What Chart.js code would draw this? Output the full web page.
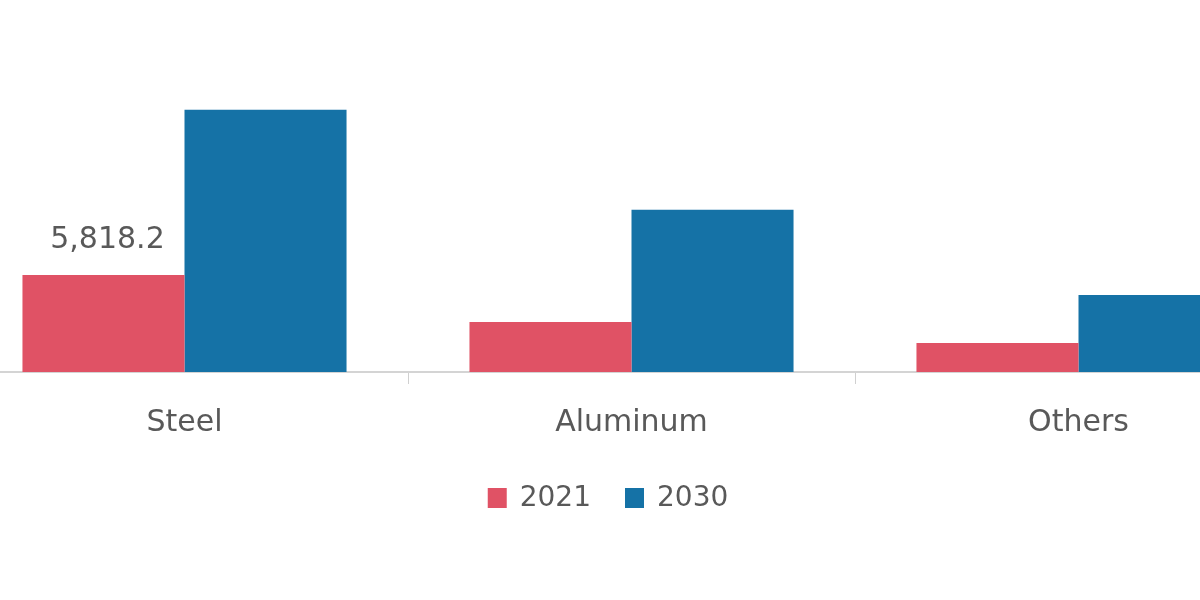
<!DOCTYPE html>
<html>
<head>
<meta charset="utf-8">
<script src="https://cdn.jsdelivr.net/npm/chart.js@4/dist/chart.umd.min.js"></script>
<style>
  html, body { margin: 0; padding: 0; width: 1200px; height: 600px; overflow: hidden; background: #ffffff; }
  #wrap { position: absolute; left: -39px; top: 0; width: 1341px; height: 600px; }
</style>
</head>
<body>
<div id="wrap"><canvas id="c" width="1341" height="600"></canvas></div>
<script>
const categories = ["Steel", "Aluminum", "Others"];
const seriesNames = ["2021", "2030"];
const values2021 = [5818.2, 3000, 1740];
const values2030 = [15720, 9720, 4620];
const labeledValue = "5,818.2";
const colors = ["#E05265", "#1572A6"];

const FONT = "'DejaVu Sans', sans-serif";
const TEXT = "#595959";

const valueLabelPlugin = {
  id: 'valueLabel',
  afterDatasetsDraw(chart) {
    const ctx = chart.ctx;
    const bar = chart.getDatasetMeta(0).data[0];
    ctx.save();
    ctx.font = "30px " + FONT;
    ctx.fillStyle = TEXT;
    ctx.textAlign = 'center';
    ctx.textBaseline = 'bottom';
    ctx.fillText(labeledValue, bar.x + 4, bar.y - 20);
    ctx.restore();
  }
};

const legendPlugin = {
  id: 'customLegend',
  afterDraw(chart) {
    const ctx = chart.ctx;
    ctx.save();
    ctx.font = "28px " + FONT;
    const box = 19, gapBoxText = 13, gapItems = 34;
    const widths = chart.data.datasets.map(d => ctx.measureText(d.label).width);
    let total = 0;
    widths.forEach((w, i) => { total += box + gapBoxText + w + (i < widths.length - 1 ? gapItems : 0); });
    const centerX = 608 + 39;
    const cy = 498;
    let x = centerX - total / 2;
    chart.data.datasets.forEach((d, i) => {
      ctx.fillStyle = d.backgroundColor;
      ctx.fillRect(x, cy - 10, box, 20);
      x += box + gapBoxText;
      ctx.fillStyle = TEXT;
      ctx.textAlign = 'left';
      ctx.textBaseline = 'middle';
      ctx.fillText(d.label, x, cy + 1);
      x += widths[i] + gapItems;
    });
    ctx.restore();
  }
};

new Chart(document.getElementById('c'), {
  type: 'bar',
  data: {
    labels: categories,
    datasets: [
      { label: seriesNames[0], data: values2021, backgroundColor: colors[0] },
      { label: seriesNames[1], data: values2030, backgroundColor: colors[1] }
    ]
  },
  options: {
    responsive: false,
    animation: false,
    devicePixelRatio: 1,
    layout: { padding: { top: 0, left: 0, right: 0, bottom: 0 } },
    datasets: { bar: { categoryPercentage: 0.725, barPercentage: 1.0 } },
    plugins: { legend: { display: false }, tooltip: { enabled: false } },
    scales: {
      x: {
        afterFit(scale) { scale.height = 228; },
        grid: { offset: true, drawOnChartArea: false, drawTicks: true, tickLength: 12, color: '#d0d0d0' },
        border: { display: true, color: '#d4d4d4', width: 2 },
        ticks: { color: TEXT, font: { family: FONT, size: 30 }, padding: 21 }
      },
      y: {
        display: false,
        min: 0,
        max: 22300
      }
    }
  },
  plugins: [valueLabelPlugin, legendPlugin]
});
</script>
</body>
</html>
